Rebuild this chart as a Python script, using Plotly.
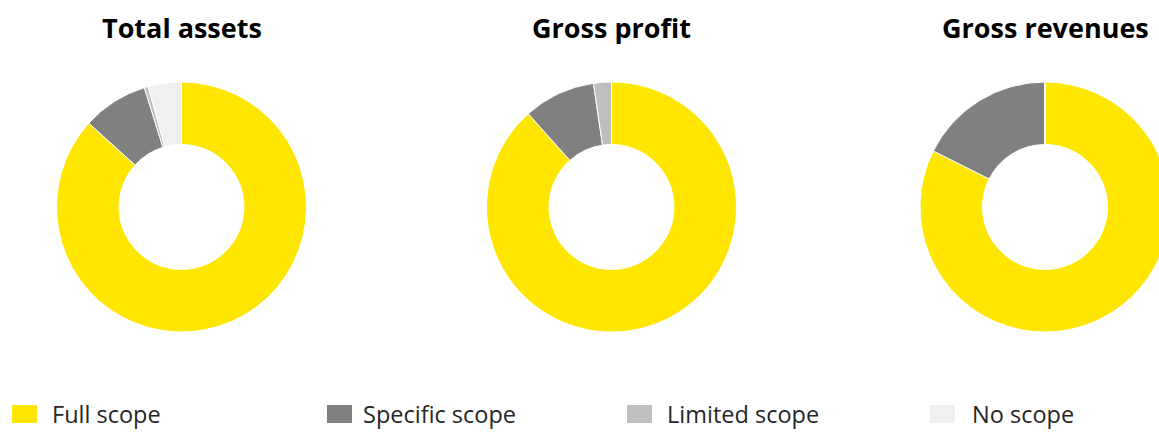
import plotly.graph_objects as go

# ---- data ----
categories = ["Full scope", "Specific scope", "Limited scope", "No scope"]
colors = ["#FFE600", "#808080", "#BFBFBF", "#F0F0F0"]
titles = ["Total assets", "Gross profit", "Gross revenues"]
total_assets = [86.7, 8.5, 0.5, 4.3]
gross_profit = [88.4, 9.3, 2.3, 0.0]
gross_revenues = [82.4, 17.6, 0.0, 0.0]

series = [total_assets, gross_profit, gross_revenues]

W, H = 1175, 432
FONT = "Open Sans"

# layout positions in pixels (center x of each donut, radius, center y from top)
centers_x = [181.5, 611.5, 1045.0]
radius = 125
center_y = 207

fig = go.Figure()
for name, vals, cx in zip(titles, series, centers_x):
    fig.add_trace(go.Pie(
        labels=categories, values=vals, name=name,
        marker=dict(colors=colors, line=dict(color="white", width=1)),
        hole=0.5, sort=False, direction="clockwise", rotation=0,
        textinfo="none", hoverinfo="label+percent", showlegend=False,
        domain=dict(x=[(cx - radius) / W, (cx + radius) / W],
                    y=[(H - center_y - radius) / H, (H - center_y + radius) / H]),
    ))

annotations = []
for name, cx in zip(titles, centers_x):
    annotations.append(dict(
        text=f"<b>{name}</b>", x=cx / W, y=(H - 28) / H, xref="paper", yref="paper",
        xanchor="center", yanchor="middle", showarrow=False,
        font=dict(family=FONT, size=27, color="#000000")))

# custom legend
sq_x = [12, 327, 627, 930]
txt_x = [50, 361, 665, 970]
shapes = []
for cat, col, sx, tx in zip(categories, colors, sq_x, txt_x):
    shapes.append(dict(type="rect", xref="paper", yref="paper",
                       x0=sx / W, x1=(sx + 25) / W, y0=(H - 423) / H, y1=(H - 405) / H,
                       fillcolor=col, line=dict(width=0)))
    annotations.append(dict(
        text=cat, x=tx / W, y=0.0, xref="paper", yref="paper",
        xanchor="left", yanchor="bottom", showarrow=False,
        font=dict(family=FONT, size=23.5, color="#262626")))

fig.update_layout(
    width=W, height=H, autosize=False,
    margin=dict(l=0, r=0, t=0, b=0),
    paper_bgcolor="white", plot_bgcolor="white",
    annotations=annotations, shapes=shapes,
)

fig.write_html(
    "out.html",
    config={"displayModeBar": False},
    post_script="document.documentElement.style.overflow='hidden';"
                "document.body.style.overflow='hidden';document.body.style.margin='0';",
)
